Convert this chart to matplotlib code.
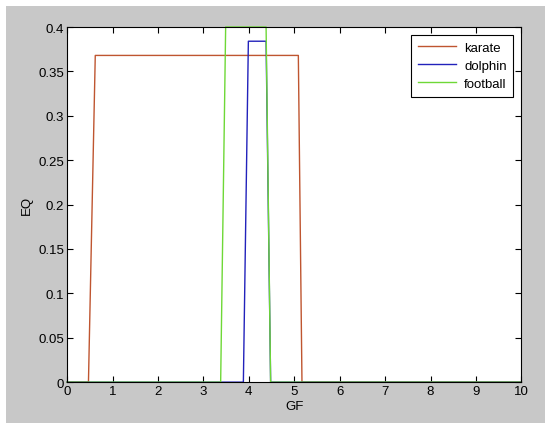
import matplotlib.pyplot as plt
import matplotlib.patches as patches

# step-like curves of EQ against GF
karate_x = [0, 0.47, 0.62, 5.09, 5.17, 10]
karate_y = [0, 0, 0.368, 0.368, 0, 0]
dolphin_x = [0, 3.88, 3.99, 4.38, 4.48, 10]
dolphin_y = [0, 0, 0.384, 0.384, 0, 0]
football_x = [0, 3.38, 3.49, 4.38, 4.48, 10]
football_y = [0, 0, 0.4, 0.4, 0, 0]

xticks = list(range(0, 11))
yticks = [0, 0.05, 0.1, 0.15, 0.2, 0.25, 0.3, 0.35, 0.4]
ylabels = ['0', '0.05', '0.1', '0.15', '0.2', '0.25', '0.3', '0.35', '0.4']

plt.rcParams['font.family'] = ['Liberation Sans', 'DejaVu Sans']

fig = plt.figure(figsize=(5.5, 4.31), dpi=100)
fig.patch.set_facecolor('white')
# matlab grey figure area
fig.patches.append(patches.Rectangle((6 / 550, 7 / 431), 539 / 550, 417 / 431,
                                     transform=fig.transFigure, facecolor='#c8c8c8',
                                     edgecolor='none', zorder=-10))

ax = fig.add_axes([0.122, 0.111, 0.826, 0.824])
ax.set_zorder(5)
ax.set_facecolor('white')

ax.plot(karate_x, karate_y, color='#bf5530', lw=1, label='karate', clip_on=False)
ax.plot(dolphin_x, dolphin_y, color='#2222bb', lw=1, label='dolphin', clip_on=False)
ax.plot(football_x, football_y, color='#6ed836', lw=1, label='football', clip_on=False)

ax.set_xlim(0, 10)
ax.set_ylim(0, 0.4)
ax.set_xticks(xticks)
ax.set_yticks(yticks)
ax.set_yticklabels(ylabels)
ax.tick_params(direction='in', length=4, width=0.8, top=True, right=True,
               labelsize=9.5, colors='black', pad=2)
for s in ax.spines.values():
    s.set_linewidth(0.8)
    s.set_color('black')

ax.set_xlabel('GF', fontsize=9.5, labelpad=2)
ax.set_ylabel('EQ', fontsize=9.5, labelpad=4)

leg = ax.legend(loc='upper right', fontsize=9.5, fancybox=False, framealpha=1,
                edgecolor='black', borderaxespad=0.6, handlelength=2.9,
                labelspacing=0.45, borderpad=0.5, handletextpad=0.6)
leg.get_frame().set_linewidth(0.8)

fig.savefig('out.png', dpi=100)
